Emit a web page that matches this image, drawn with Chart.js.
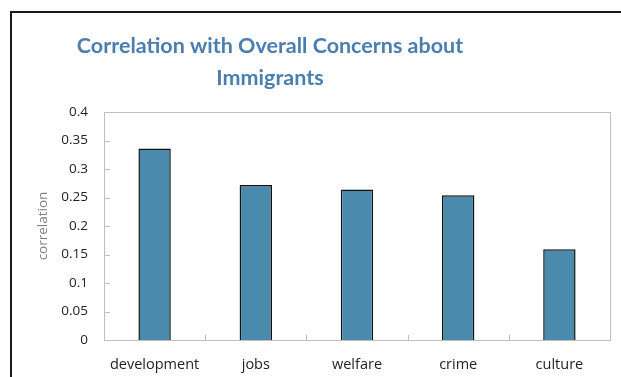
<!DOCTYPE html>
<html>
<head>
<meta charset="utf-8">
<script src="https://cdn.jsdelivr.net/npm/chart.js@4/dist/chart.umd.min.js"></script>
<style>
  html, body { margin: 0; padding: 0; background: #fff; }
  #wrap { position: relative; width: 621px; height: 377px; overflow: hidden; }
  #frame { position: absolute; left: 10px; top: 11px; width: 700px; height: 500px; border: 2px solid #1a1a1a; box-sizing: border-box; }
  canvas { position: absolute; left: 0; top: 0; }
</style>
</head>
<body>
<div id="wrap">
  <div id="frame"></div>
  <canvas id="c" width="621" height="377"></canvas>
</div>
<script>
const titleLines = ["Correlation with Overall Concerns about", "Immigrants"];
const categories = ["development", "jobs", "welfare", "crime", "culture"];
const correlation = [0.336, 0.272, 0.264, 0.254, 0.159];
const yTickStep = 0.05;
const yMax = 0.4;
const yAxisTitle = "correlation";

const FONT = "'Open Sans', 'Noto Sans', sans-serif";

const framePlugin = {
  id: 'frameAndTicks',
  afterDraw(chart) {
    const { ctx, chartArea: a, scales } = chart;
    ctx.save();
    ctx.strokeStyle = '#bfbfbf';
    ctx.lineWidth = 1;
    ctx.strokeRect(Math.round(a.left) + 0.5, Math.round(a.top) + 0.5, Math.round(a.right - a.left), Math.round(a.bottom - a.top));
    const y = scales.y;
    y.ticks.forEach((t, i) => {
      const py = Math.round(y.getPixelForTick(i)) + 0.5;
      ctx.beginPath();
      ctx.moveTo(a.left, py);
      ctx.lineTo(a.left + 6, py);
      ctx.stroke();
    });
    const x = scales.x;
    for (let i = 1; i < categories.length; i++) {
      const px = Math.round((x.getPixelForValue(i - 1) + x.getPixelForValue(i)) / 2) + 0.5;
      ctx.beginPath();
      ctx.moveTo(px, a.bottom);
      ctx.lineTo(px, a.bottom - 5);
      ctx.stroke();
    }
    ctx.fillStyle = '#4a7eb0';
    ctx.font = "bold 21.5px Lato, " + FONT;
    ctx.textAlign = 'center';
    ctx.textBaseline = 'middle';
    ctx.fillText(titleLines[0], 270, 46);
    ctx.fillText(titleLines[1], 270, 78);
    ctx.restore();
  }
};

new Chart(document.getElementById('c'), {
  type: 'bar',
  data: {
    labels: categories,
    datasets: [{
      data: correlation,
      backgroundColor: '#4a8aad',
      borderColor: '#111',
      borderWidth: 1.5,
      barPercentage: 0.32,
      categoryPercentage: 1
    }]
  },
  options: {
    responsive: false,
    animation: false,
    layout: { padding: { top: 112, right: 11, bottom: 0, left: 0 } },
    plugins: { legend: { display: false }, title: { display: false }, tooltip: { enabled: false } },
    scales: {
      x: {
        grid: { display: false },
        border: { display: false },
        ticks: { color: '#222', font: { family: FONT, size: 14.5 }, padding: 8, maxRotation: 0 },
        afterFit(s) { s.height = 37; }
      },
      y: {
        min: 0, max: yMax,
        grid: { display: false },
        border: { display: false },
        ticks: { stepSize: yTickStep, color: '#222', font: { family: FONT, size: 13.5 }, padding: 8,
          callback: v => String(Math.round(v * 100) / 100) },
        title: { display: true, text: yAxisTitle, color: '#808080', font: { family: FONT, size: 13.5 }, padding: { top: 35, bottom: 0 } },
        afterFit(s) { s.width = 104; }
      }
    }
  },
  plugins: [framePlugin]
});
</script>
</body>
</html>
